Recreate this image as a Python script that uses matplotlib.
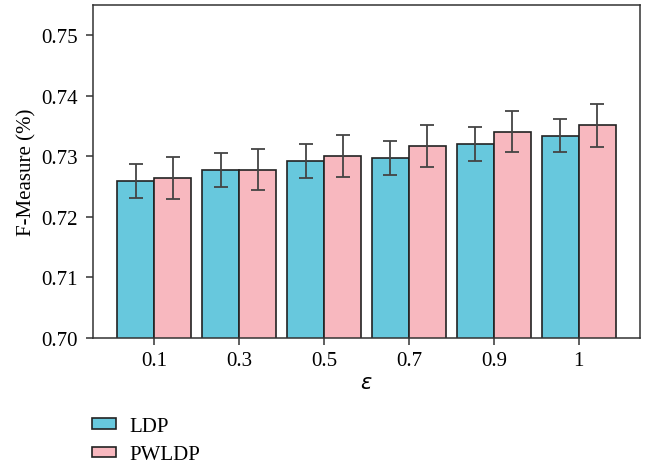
import numpy as np
import matplotlib.pyplot as plt
from matplotlib.patches import Patch

plt.rcParams['font.family'] = ['Liberation Serif', 'DejaVu Serif']

eps_labels = ['0.1', '0.3', '0.5', '0.7', '0.9', '1']
ldp = [0.7259, 0.7277, 0.7292, 0.7297, 0.7321, 0.7334]
ldp_err = [0.0028, 0.0028, 0.0028, 0.0028, 0.0028, 0.0027]
pwldp = [0.7264, 0.7278, 0.7301, 0.7317, 0.7341, 0.7351]
pwldp_err = [0.0035, 0.0034, 0.0035, 0.0034, 0.0034, 0.0035]

c_ldp = '#67c8dd'
c_pw = '#f8b8bf'
fs = 15

fig = plt.figure(figsize=(6.46, 4.64), dpi=100)
ax = fig.add_axes([93/646, 1 - 339/464, (640 - 93)/646, (339 - 6)/464])

x = np.arange(len(eps_labels))
w = 0.435
ekw = dict(ecolor='#444444', elinewidth=1.3, capsize=5, capthick=1.3)
ax.bar(x - w/2, ldp, w, yerr=ldp_err, color=c_ldp, edgecolor='#222222', linewidth=1.2, error_kw=ekw)
ax.bar(x + w/2, pwldp, w, yerr=pwldp_err, color=c_pw, edgecolor='#222222', linewidth=1.2, error_kw=ekw)

ax.set_ylim(0.70, 0.755)
ax.set_xlim(-0.72, 5.72)
ax.set_yticks([0.70, 0.71, 0.72, 0.73, 0.74, 0.75])
ax.set_yticklabels(['0.70', '0.71', '0.72', '0.73', '0.74', '0.75'])
ax.set_xticks(x)
ax.set_xticklabels(eps_labels)
ax.tick_params(labelsize=fs, width=1.1, length=5, color='#333333')
ax.tick_params(axis='y', pad=6)
ax.tick_params(axis='x', pad=4)
for s in ax.spines.values():
    s.set_linewidth(1.1)
    s.set_color('#333333')

ax.set_ylabel('F-Measure (%)', fontsize=fs, labelpad=3)
ax.set_xlabel(r'$\varepsilon$', fontsize=fs, labelpad=3)

handles = [Patch(facecolor=c_ldp, edgecolor='#222222', linewidth=1.2, label='LDP'),
           Patch(facecolor=c_pw, edgecolor='#222222', linewidth=1.2, label='PWLDP')]
fig.legend(handles=handles, loc='upper left', bbox_to_anchor=(92/646, 1 - 418/464), frameon=False,
           fontsize=fs, handlelength=1.15, handleheight=0.4, labelspacing=0.45,
           borderpad=0, borderaxespad=0, handletextpad=0.65)

fig.savefig('out.png', dpi=100)
